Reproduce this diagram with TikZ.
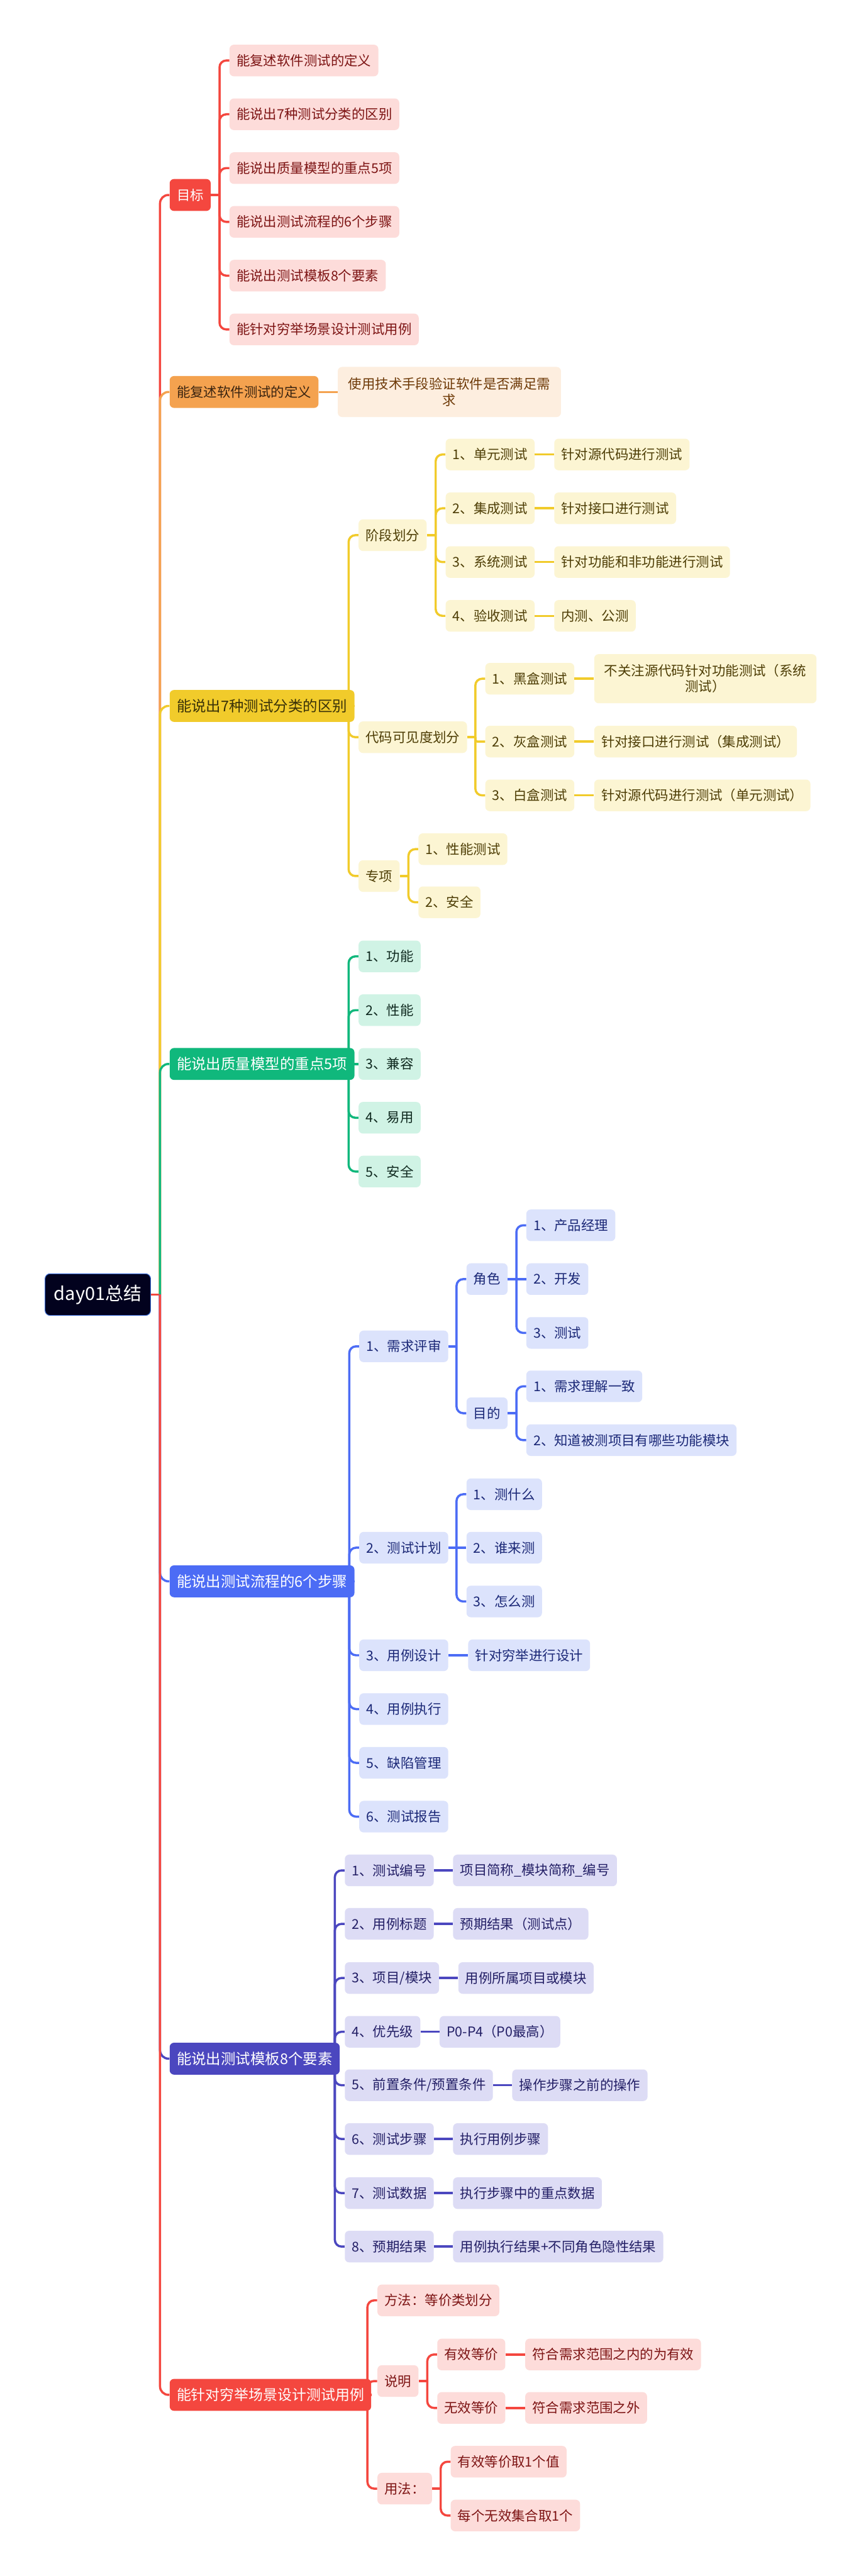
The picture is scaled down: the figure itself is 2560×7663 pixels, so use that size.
\documentclass[tikz,border=0pt]{standalone}
\usepackage{fontspec}
\setmainfont{Noto Sans CJK SC}
\usepackage{xcolor}
\definecolor{tsnavy}{HTML}{02021E}
\definecolor{tsedge}{HTML}{3A6AD4}
\definecolor{tsred}{HTML}{F4473F}
\definecolor{tsredlt}{HTML}{FDDCDA}
\definecolor{tsredtx}{HTML}{7D1414}
\definecolor{tsorange}{HTML}{F4A24F}
\definecolor{tsorangelt}{HTML}{FDEEDF}
\definecolor{tsorangetx}{HTML}{6E3A08}
\definecolor{tsorangedk}{HTML}{3A2410}
\definecolor{tsyellow}{HTML}{F1CB2B}
\definecolor{tsyellowlt}{HTML}{FCF5D3}
\definecolor{tsyellowtx}{HTML}{4E3E06}
\definecolor{tsyellowdk}{HTML}{3A3208}
\definecolor{tsgreen}{HTML}{10B87C}
\definecolor{tsgreenlt}{HTML}{D0F3E5}
\definecolor{tsgreentx}{HTML}{102A20}
\definecolor{tsblue}{HTML}{4C6CF5}
\definecolor{tsbluelt}{HTML}{DCE3FC}
\definecolor{tsbluetx}{HTML}{1B2877}
\definecolor{tsindigo}{HTML}{4B47BF}
\definecolor{tsindigolt}{HTML}{DDDCF5}
\definecolor{tsindigotx}{HTML}{231F66}
\usetikzlibrary{positioning}

\begin{document}
\begin{tikzpicture}[x=0.1mm,y=-0.1mm,
  top/.style={rounded corners=1.3mm,minimum height=9.5mm,inner xsep=2.1mm,anchor=west,font=\fontsize{12.5}{15}\selectfont},
  kid/.style={rounded corners=1.3mm,minimum height=9.4mm,inner xsep=2.1mm,anchor=west,font=\fontsize{11.4}{13.4}\selectfont},
  rkid/.style={kid,fill=tsredlt,text=tsredtx},
  okid/.style={kid,fill=tsorangelt,text=tsorangetx},
  ykid/.style={kid,fill=tsyellowlt,text=tsyellowtx},
  gkid/.style={kid,fill=tsgreenlt,text=tsgreentx},
  bkid/.style={kid,fill=tsbluelt,text=tsbluetx},
  ikid/.style={kid,fill=tsindigolt,text=tsindigotx},
  ln/.style={line width=0.65mm,rounded corners=2mm}]
  \fill[white] (0,0) rectangle (2560,7663);
  \useasboundingbox (0,0) rectangle (2560,7663);

  % root and main branches
  \node[fill=tsnavy,draw=tsedge,line width=0.2mm,rounded corners=1.5mm,text=white,minimum width=31.4mm,minimum height=12.4mm,anchor=west,font=\fontsize{15.4}{18}\selectfont] (root) at (133,3851) {day01总结};
  \coordinate (trunk) at (476,3851);
  \node[top,fill=tsred,text=white,font=\fontsize{11.4}{13.4}\selectfont] (goal) at (504,580) {目标};
  \node[top,fill=tsorange,text=tsorangedk,font=\fontsize{11.4}{13.4}\selectfont] (defn) at (504,1166) {能复述软件测试的定义};
  \node[top,fill=tsyellow,text=tsyellowdk] (kinds) at (504,2100) {能说出7种测试分类的区别};
  \node[top,fill=tsgreen,text=white] (qmodel) at (504,3165) {能说出质量模型的重点5项};
  \node[top,fill=tsblue,text=white] (flow) at (504,4704) {能说出测试流程的6个步骤};
  \node[top,fill=tsindigo,text=white] (tmpl) at (504,6124) {能说出测试模板8个要素};
  \node[top,fill=tsred,text=white,font=\fontsize{12.2}{15}\selectfont] (exhaust) at (504,7124) {能针对穷举场景设计测试用例};
  \draw[ln,tsred] (root.east) -- (trunk);
  \draw[ln,tsred,rounded corners=2.5mm] (trunk) |- (goal.west);
  \draw[ln,tsorange,rounded corners=2.5mm] (trunk) |- (defn.west);
  \draw[ln,tsyellow,rounded corners=2.5mm] (trunk) |- (kinds.west);
  \draw[ln,tsgreen,rounded corners=2.5mm] (trunk) |- (qmodel.west);
  \draw[ln,tsblue,rounded corners=2.5mm] (trunk) |- (flow.west);
  \draw[ln,tsindigo,rounded corners=2.5mm] (trunk) |- (tmpl.west);
  \draw[ln,tsred,rounded corners=2.5mm] (trunk) |- (exhaust.west);

  % goals
  \coordinate (goalx) at (653,580);
  \node[rkid] (goal1) at (682,180) {能复述软件测试的定义};
  \node[rkid] (goal2) at (682,340) {能说出7种测试分类的区别};
  \node[rkid] (goal3) at (682,500) {能说出质量模型的重点5项};
  \node[rkid] (goal4) at (682,660) {能说出测试流程的6个步骤};
  \node[rkid] (goal5) at (682,820) {能说出测试模板8个要素};
  \node[rkid] (goal6) at (682,980) {能针对穷举场景设计测试用例};
  \draw[ln,tsred] (goal.east) -- (goalx);
  \draw[ln,tsred] (goalx) |- (goal1.west);
  \draw[ln,tsred] (goalx) |- (goal2.west);
  \draw[ln,tsred] (goalx) |- (goal3.west);
  \draw[ln,tsred] (goalx) |- (goal4.west);
  \draw[ln,tsred] (goalx) |- (goal5.west);
  \draw[ln,tsred] (goalx) |- (goal6.west);

  % definition
  \node[okid,right=5.6mm of defn,align=center,minimum width=66.4mm,minimum height=14.9mm] (defn1) {使用技术手段验证软件是否满足需\\求};
  \draw[ln,tsorange] (defn.east) -- (defn1.west);

  % test kinds
  \coordinate (kindsx) at (1037,2100);
  \node[ykid] (stage) at (1066,1592) {阶段划分};
  \node[ykid] (vis) at (1066,2193) {代码可见度划分};
  \node[ykid] (special) at (1066,2606) {专项};
  \draw[ln,tsyellow] (kinds.east) -- (kindsx);
  \draw[ln,tsyellow] (kindsx) |- (stage.west);
  \draw[ln,tsyellow] (kindsx) |- (vis.west);
  \draw[ln,tsyellow] (kindsx) |- (special.west);

  \coordinate (stagex) at (1296,1592);
  \node[ykid] (stage1) at (1325,1352) {1、单元测试};
  \node[ykid] (stage2) at (1325,1512) {2、集成测试};
  \node[ykid] (stage3) at (1325,1672) {3、系统测试};
  \node[ykid] (stage4) at (1325,1832) {4、验收测试};
  \node[ykid,right=5.7mm of stage1] (stage1a) {针对源代码进行测试};
  \node[ykid,right=5.7mm of stage2] (stage2a) {针对接口进行测试};
  \node[ykid,right=5.7mm of stage3] (stage3a) {针对功能和非功能进行测试};
  \node[ykid,right=5.7mm of stage4] (stage4a) {内测、公测};
  \draw[ln,tsyellow] (stage.east) -- (stagex);
  \draw[ln,tsyellow] (stagex) |- (stage1.west);
  \draw[ln,tsyellow] (stagex) |- (stage2.west);
  \draw[ln,tsyellow] (stagex) |- (stage3.west);
  \draw[ln,tsyellow] (stagex) |- (stage4.west);
  \draw[ln,tsyellow] (stage1.east) -- (stage1a.west);
  \draw[ln,tsyellow] (stage2.east) -- (stage2a.west);
  \draw[ln,tsyellow] (stage3.east) -- (stage3a.west);
  \draw[ln,tsyellow] (stage4.east) -- (stage4a.west);

  \coordinate (visx) at (1414,2193);
  \node[ykid] (vis1) at (1443,2019) {1、黑盒测试};
  \node[ykid] (vis2) at (1443,2206) {2、灰盒测试};
  \node[ykid] (vis3) at (1443,2366) {3、白盒测试};
  \node[ykid,right=5.8mm of vis1,align=center,minimum width=66.1mm,minimum height=14.6mm] (vis1a) {不关注源代码针对功能测试（系统\\测试）};
  \node[ykid,right=5.8mm of vis2] (vis2a) {针对接口进行测试（集成测试）};
  \node[ykid,right=5.8mm of vis3] (vis3a) {针对源代码进行测试（单元测试）};
  \draw[ln,tsyellow] (vis.east) -- (visx);
  \draw[ln,tsyellow] (visx) |- (vis1.west);
  \draw[ln,tsyellow,rounded corners=0.6mm] (visx) |- (vis2.west);
  \draw[ln,tsyellow] (visx) |- (vis3.west);
  \draw[ln,tsyellow] (vis1.east) -- (vis1a.west);
  \draw[ln,tsyellow] (vis2.east) -- (vis2a.west);
  \draw[ln,tsyellow] (vis3.east) -- (vis3a.west);

  \coordinate (specialx) at (1215,2606);
  \node[ykid] (special1) at (1244,2526) {1、性能测试};
  \node[ykid] (special2) at (1244,2684) {2、安全};
  \draw[ln,tsyellow] (special.east) -- (specialx);
  \draw[ln,tsyellow] (specialx) |- (special1.west);
  \draw[ln,tsyellow] (specialx) |- (special2.west);

  % quality model
  \coordinate (qmodelx) at (1037,3165);
  \node[gkid] (q1) at (1066,2845) {1、功能};
  \node[gkid] (q2) at (1066,3005) {2、性能};
  \node[gkid] (q3) at (1066,3165) {3、兼容};
  \node[gkid] (q4) at (1066,3325) {4、易用};
  \node[gkid] (q5) at (1066,3485) {5、安全};
  \draw[ln,tsgreen] (qmodel.east) -- (qmodelx);
  \draw[ln,tsgreen] (qmodelx) |- (q1.west);
  \draw[ln,tsgreen] (qmodelx) |- (q2.west);
  \draw[ln,tsgreen] (qmodelx) -- (q3.west);
  \draw[ln,tsgreen] (qmodelx) |- (q4.west);
  \draw[ln,tsgreen] (qmodelx) |- (q5.west);

  % test flow
  \coordinate (flowx) at (1039,4704);
  \node[bkid] (f1) at (1068,4005) {1、需求评审};
  \node[bkid] (f2) at (1068,4604) {2、测试计划};
  \node[bkid] (f3) at (1068,4924) {3、用例设计};
  \node[bkid] (f4) at (1068,5084) {4、用例执行};
  \node[bkid] (f5) at (1068,5244) {5、缺陷管理};
  \node[bkid] (f6) at (1068,5404) {6、测试报告};
  \draw[ln,tsblue] (flow.east) -- (flowx);
  \draw[ln,tsblue] (flowx) |- (f1.west);
  \draw[ln,tsblue] (flowx) |- (f2.west);
  \draw[ln,tsblue] (flowx) |- (f3.west);
  \draw[ln,tsblue] (flowx) |- (f4.west);
  \draw[ln,tsblue] (flowx) |- (f5.west);
  \draw[ln,tsblue] (flowx) |- (f6.west);

  \coordinate (f1x) at (1358,4005);
  \node[bkid] (role) at (1387,3805) {角色};
  \node[bkid] (aim) at (1387,4204) {目的};
  \draw[ln,tsblue] (f1.east) -- (f1x);
  \draw[ln,tsblue] (f1x) |- (role.west);
  \draw[ln,tsblue] (f1x) |- (aim.west);

  \coordinate (rolex) at (1536,3805);
  \node[bkid] (role1) at (1565,3645) {1、产品经理};
  \node[bkid] (role2) at (1565,3805) {2、开发};
  \node[bkid] (role3) at (1565,3965) {3、测试};
  \draw[ln,tsblue] (role.east) -- (rolex);
  \draw[ln,tsblue] (rolex) |- (role1.west);
  \draw[ln,tsblue] (rolex) -- (role2.west);
  \draw[ln,tsblue] (rolex) |- (role3.west);

  \coordinate (aimx) at (1536,4204);
  \node[bkid] (aim1) at (1565,4124) {1、需求理解一致};
  \node[bkid] (aim2) at (1565,4284) {2、知道被测项目有哪些功能模块};
  \draw[ln,tsblue] (aim.east) -- (aimx);
  \draw[ln,tsblue] (aimx) |- (aim1.west);
  \draw[ln,tsblue] (aimx) |- (aim2.west);

  \coordinate (f2x) at (1358,4604);
  \node[bkid] (plan1) at (1387,4445) {1、测什么};
  \node[bkid] (plan2) at (1387,4604) {2、谁来测};
  \node[bkid] (plan3) at (1387,4764) {3、怎么测};
  \draw[ln,tsblue] (f2.east) -- (f2x);
  \draw[ln,tsblue] (f2x) |- (plan1.west);
  \draw[ln,tsblue] (f2x) -- (plan2.west);
  \draw[ln,tsblue] (f2x) |- (plan3.west);

  \node[bkid,right=5.8mm of f3] (f3a) {针对穷举进行设计};
  \draw[ln,tsblue] (f3.east) -- (f3a.west);

  % template
  \coordinate (tmplx) at (996,6124);
  \node[ikid] (t1) at (1025,5564) {1、测试编号};
  \node[ikid] (t2) at (1025,5723) {2、用例标题};
  \node[ikid] (t3) at (1025,5884) {3、项目/模块};
  \node[ikid] (t4) at (1025,6044) {4、优先级};
  \node[ikid] (t5) at (1025,6203) {5、前置条件/预置条件};
  \node[ikid] (t6) at (1025,6363) {6、测试步骤};
  \node[ikid] (t7) at (1025,6524) {7、测试数据};
  \node[ikid] (t8) at (1025,6683) {8、预期结果};
  \node[ikid,right=5.6mm of t1] (t1a) {项目简称\_模块简称\_编号};
  \node[ikid,right=5.6mm of t2] (t2a) {预期结果（测试点）};
  \node[ikid,right=5.6mm of t3] (t3a) {用例所属项目或模块};
  \node[ikid,right=5.6mm of t4] (t4a) {P0-P4（P0最高）};
  \node[ikid,right=5.6mm of t5] (t5a) {操作步骤之前的操作};
  \node[ikid,right=5.6mm of t6] (t6a) {执行用例步骤};
  \node[ikid,right=5.6mm of t7] (t7a) {执行步骤中的重点数据};
  \node[ikid,right=5.6mm of t8] (t8a) {用例执行结果+不同角色隐性结果};
  \draw[ln,tsindigo] (tmpl.east) -- (tmplx);
  \draw[ln,tsindigo] (tmplx) |- (t1.west);
  \draw[ln,tsindigo] (tmplx) |- (t2.west);
  \draw[ln,tsindigo] (tmplx) |- (t3.west);
  \draw[ln,tsindigo] (tmplx) |- (t4.west);
  \draw[ln,tsindigo] (tmplx) |- (t5.west);
  \draw[ln,tsindigo] (tmplx) |- (t6.west);
  \draw[ln,tsindigo] (tmplx) |- (t7.west);
  \draw[ln,tsindigo] (tmplx) |- (t8.west);
  \draw[ln,tsindigo] (t1.east) -- (t1a.west);
  \draw[ln,tsindigo] (t2.east) -- (t2a.west);
  \draw[ln,tsindigo] (t3.east) -- (t3a.west);
  \draw[ln,tsindigo] (t4.east) -- (t4a.west);
  \draw[ln,tsindigo] (t5.east) -- (t5a.west);
  \draw[ln,tsindigo] (t6.east) -- (t6a.west);
  \draw[ln,tsindigo] (t7.east) -- (t7a.west);
  \draw[ln,tsindigo] (t8.east) -- (t8a.west);

  % exhaustive cases
  \coordinate (exhaustx) at (1093,7124);
  \node[rkid] (e1) at (1122,6843) {方法：等价类划分};
  \node[rkid] (e2) at (1122,7083) {说明};
  \node[rkid] (e3) at (1122,7403) {用法：};
  \draw[ln,tsred] (exhaust.east) -- (exhaustx);
  \draw[ln,tsred] (exhaustx) |- (e1.west);
  \draw[ln,tsred] (exhaustx) |- (e2.west);
  \draw[ln,tsred] (exhaustx) |- (e3.west);

  \coordinate (e2x) at (1271,7083);
  \node[rkid] (valid) at (1300,7004) {有效等价};
  \node[rkid] (invalid) at (1300,7163) {无效等价};
  \node[rkid,right=5.8mm of valid] (valida) {符合需求范围之内的为有效};
  \node[rkid,right=5.8mm of invalid] (invalida) {符合需求范围之外};
  \draw[ln,tsred] (e2.east) -- (e2x);
  \draw[ln,tsred] (e2x) |- (valid.west);
  \draw[ln,tsred] (e2x) |- (invalid.west);
  \draw[ln,tsred] (valid.east) -- (valida.west);
  \draw[ln,tsred] (invalid.east) -- (invalida.west);

  \coordinate (e3x) at (1311,7403);
  \node[rkid] (use1) at (1340,7323) {有效等价取1个值};
  \node[rkid] (use2) at (1340,7483) {每个无效集合取1个};
  \draw[ln,tsred] (e3.east) -- (e3x);
  \draw[ln,tsred] (e3x) |- (use1.west);
  \draw[ln,tsred] (e3x) |- (use2.west);
\end{tikzpicture}
\end{document}
